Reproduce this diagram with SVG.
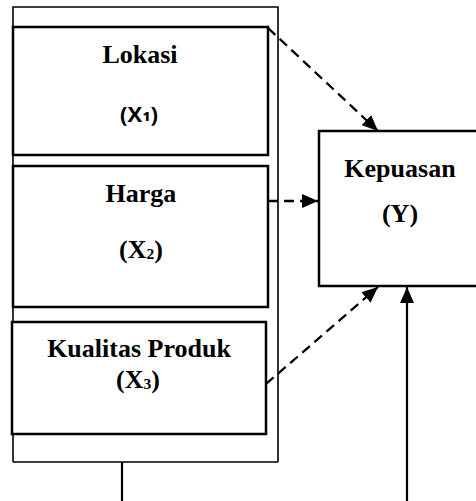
<svg xmlns="http://www.w3.org/2000/svg" width="476" height="501" viewBox="0 0 476 501">
<style>
.box{fill:#fff;stroke:#000;stroke-width:2.5}
.outer{fill:none;stroke:#000;stroke-width:1.6}
.t{font-family:"Liberation Serif","Times New Roman",serif;font-weight:bold;font-size:26px;fill:#000;text-anchor:middle}
.s{font-family:"Open Sans","Liberation Sans",sans-serif;font-weight:bold;font-size:22px;fill:#000;text-anchor:middle}
.dash{fill:none;stroke:#000;stroke-width:2.3;stroke-dasharray:10,6}
.solid{fill:none;stroke:#000;stroke-width:2.2}
</style>
<defs>
<marker id="ah" markerUnits="userSpaceOnUse" markerWidth="17" markerHeight="14" refX="16" refY="7" orient="auto">
<path d="M0,0 L16,7 L0,14 z" fill="#000"/>
</marker>
</defs>
<g id="group-x">
<path class="outer" d="M13,462 L13,7 L278,7 L278,462 M13,462 L278,462"/>
</g>
<g id="lokasi">
<rect class="box" x="13" y="27" width="255" height="128"/>
<text class="t" x="140" y="63">Lokasi</text>
<text class="s" x="139" y="122">(X<tspan dy="-4">₁</tspan><tspan dy="4">)</tspan></text>
</g>
<g id="harga">
<rect class="box" x="13" y="166" width="255" height="141"/>
<text class="t" x="141" y="202">Harga</text>
<text class="t" x="141" y="258">(X<tspan dy="-4">₂</tspan><tspan dy="4">)</tspan></text>
</g>
<g id="kualitas">
<rect class="box" x="12" y="322" width="254" height="112"/>
<text class="t" x="139" y="357">Kualitas Produk</text>
<text class="t" x="138" y="388">(X<tspan dy="-4">₃</tspan><tspan dy="4">)</tspan></text>
</g>
<g id="kepuasan">
<rect class="box" x="319" y="131" width="160" height="155"/>
<text class="t" x="400" y="177">Kepuasan</text>
<text class="t" x="400" y="222">(Y)</text>
</g>
<g id="connectors">
<line class="dash" x1="268" y1="28" x2="378" y2="131" marker-end="url(#ah)"/>
<line class="dash" x1="268" y1="201" x2="318" y2="201" marker-end="url(#ah)"/>
<line class="dash" x1="266" y1="384" x2="378" y2="287" marker-end="url(#ah)"/>
<line class="solid" x1="122" y1="462" x2="122" y2="501"/>
<line class="solid" x1="407" y1="501" x2="407" y2="287" marker-end="url(#ah)"/>
</g>
</svg>
